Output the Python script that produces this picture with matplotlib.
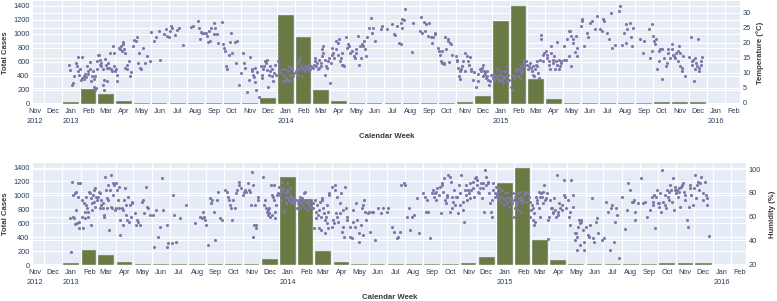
import matplotlib
matplotlib.use("Agg")
import matplotlib.pyplot as plt
import matplotlib.dates as mdates
from matplotlib.lines import Line2D
from matplotlib.ticker import FuncFormatter, NullFormatter
from matplotlib.transforms import blended_transform_factory
import pandas as pd

plt.rcParams['font.family'] = ['Liberation Sans', 'DejaVu Sans']

# monthly total cases, Jan..Dec
cases_2013 = [33, 210, 143, 43, 14, 14, 12, 12, 14, 17, 17, 90]
cases_2014 = [1262, 948, 195, 38, 19, 14, 14, 12, 14, 14, 29, 110]
cases_2015 = [1176, 1390, 352, 67, 19, 14, 14, 14, 12, 29, 29, 29]

# daily mean temperature (C), (month-day, value)
temp_2013 = [
    ("01-13", 12.5), ("01-14", 10.8), ("01-19", 6.0), ("01-20", 6.6), ("01-22", 9.0), ("01-25", 13.3),
    ("01-27", 12.2), ("01-28", 10.5), ("01-29", 15.3), ("01-30", 9.4),
    ("02-01", 11.3), ("02-02", 7.7), ("02-04", 8.2), ("02-05", 15.3), ("02-07", 8.8), ("02-08", 7.9),
    ("02-09", 9.7), ("02-11", 8.6), ("02-13", 12.2), ("02-14", 10.5), ("02-15", 9.7), ("02-17", 11.1),
    ("02-18", 13.6), ("02-19", 7.1), ("02-21", 8.8), ("02-22", 10.5), ("02-24", 7.9), ("02-25", 5.2),
    ("02-26", 4.3), ("02-27", 9.0), ("02-28", 4.9),
    ("03-01", 11.1), ("03-02", 13.9), ("03-04", 16.1), ("03-05", 15.8), ("03-06", 12.7), ("03-07", 14.4),
    ("03-08", 12.2), ("03-09", 13.3), ("03-11", 11.3), ("03-12", 6.0), ("03-13", 4.3), ("03-14", 7.7),
    ("03-15", 14.7), ("03-17", 12.7), ("03-18", 11.6), ("03-19", 7.1), ("03-21", 13.3), ("03-22", 11.6),
    ("03-24", 16.7), ("03-25", 11.1), ("03-27", 10.5), ("03-28", 18.9), ("03-30", 16.7), ("03-31", 12.2),
    ("04-01", 10.5), ("04-03", 11.1), ("04-04", 7.1), ("04-05", 9.4), ("04-08", 18.4), ("04-10", 17.8),
    ("04-11", 18.9), ("04-13", 17.2), ("04-14", 19.5), ("04-15", 20.3), ("04-16", 18.0), ("04-18", 16.7),
    ("04-19", 11.6), ("04-21", 12.7), ("04-22", 11.1), ("04-25", 13.9), ("04-27", 9.0), ("04-29", 10.2),
    ("05-02", 18.9), ("05-04", 21.0), ("05-06", 20.6), ("05-09", 21.8), ("05-10", 13.3), ("05-12", 16.7),
    ("05-14", 11.6), ("05-16", 11.1), ("05-19", 18.4), ("05-22", 13.3), ("05-25", 15.6), ("05-31", 13.9),
    ("06-01", 23.7), ("06-06", 20.6), ("06-09", 21.8), ("06-15", 24.0), ("06-16", 14.4), ("06-23", 22.9),
    ("06-26", 24.8), ("06-29", 22.3),
    ("07-02", 21.8), ("07-03", 24.0), ("07-05", 25.5), ("07-07", 25.1), ("07-12", 22.5), ("07-15", 24.3),
    ("07-19", 25.1), ("07-25", 19.2),
    ("08-09", 25.3), ("08-12", 25.5), ("08-20", 27.3), ("08-22", 25.1), ("08-23", 21.2), ("08-25", 23.7),
    ("08-27", 23.4), ("08-30", 23.2),
    ("09-02", 23.4), ("09-05", 22.3), ("09-06", 20.3), ("09-08", 24.0), ("09-09", 20.6), ("09-11", 25.1),
    ("09-16", 22.9), ("09-17", 26.8), ("09-18", 25.1), ("09-22", 22.9), ("09-23", 20.1), ("09-29", 27.0),
    ("10-02", 19.5), ("10-03", 18.4), ("10-05", 17.2), ("10-07", 12.2), ("10-08", 11.1), ("10-11", 16.1),
    ("10-14", 20.3), ("10-15", 23.4), ("10-17", 16.7), ("10-22", 20.3), ("10-23", 13.3), ("10-25", 20.6),
    ("10-28", 6.0),
    ("11-01", 9.9), ("11-05", 16.7), ("11-06", 13.3), ("11-08", 11.6), ("11-12", 3.4), ("11-15", 7.7),
    ("11-17", 15.3), ("11-19", 10.5), ("11-20", 11.1), ("11-21", 9.4), ("11-23", 8.6), ("11-24", 6.8),
    ("11-25", 11.6), ("11-27", 4.3), ("11-28", 10.2),
    ("12-02", 2.0), ("12-05", 12.2), ("12-06", 8.2), ("12-07", 9.4), ("12-09", 11.1), ("12-10", 12.2),
    ("12-12", 13.9), ("12-14", 13.3), ("12-15", 14.4), ("12-16", 10.8), ("12-17", 5.2), ("12-19", 9.4),
    ("12-20", 10.5), ("12-21", 12.2), ("12-23", 8.8), ("12-24", 11.1), ("12-26", 7.1), ("12-27", 9.9),
    ("12-29", 12.7), ("12-30", 9.4),
]
temp_2014 = [
    ("01-02", 13.9), ("01-04", 13.3), ("01-05", 10.5), ("01-08", 9.9), ("01-10", 11.1), ("01-12", 7.1),
    ("01-13", 9.4), ("01-14", 11.1), ("01-16", 8.2), ("01-17", 7.7), ("01-19", 10.5), ("01-20", 7.1),
    ("01-22", 12.2), ("01-23", 9.4), ("01-24", 7.7), ("01-25", 11.6), ("01-27", 11.1), ("01-29", 8.8),
    ("01-30", 9.9),
    ("02-02", 10.5), ("02-04", 11.6), ("02-05", 13.3), ("02-06", 9.4), ("02-07", 13.9), ("02-08", 11.1),
    ("02-10", 15.0), ("02-11", 12.2), ("02-12", 8.8), ("02-14", 11.1), ("02-15", 11.6), ("02-17", 12.2),
    ("02-18", 10.5), ("02-19", 12.2), ("02-21", 11.1), ("02-22", 11.6), ("02-24", 12.7), ("02-25", 10.5),
    ("02-27", 11.1), ("02-28", 12.2),
    ("03-03", 11.6), ("03-05", 12.7), ("03-06", 15.0), ("03-07", 13.9), ("03-09", 12.2), ("03-10", 13.3),
    ("03-11", 11.1), ("03-13", 11.6), ("03-14", 14.4), ("03-16", 12.2), ("03-17", 13.3), ("03-18", 15.6),
    ("03-19", 17.8), ("03-20", 18.9), ("03-21", 16.7), ("03-23", 9.4), ("03-24", 14.4), ("03-25", 12.2),
    ("03-27", 11.6), ("03-28", 13.9), ("03-30", 15.0),
    ("04-01", 6.6), ("04-02", 13.3), ("04-04", 16.1), ("04-05", 18.4), ("04-07", 16.7), ("04-08", 15.0),
    ("04-11", 20.6), ("04-12", 17.8), ("04-14", 20.1), ("04-15", 16.1), ("04-17", 21.2), ("04-18", 13.9),
    ("04-19", 15.0), ("04-21", 12.7), ("04-22", 16.7), ("04-24", 12.7), ("04-25", 12.2), ("04-28", 21.8),
    ("04-30", 18.4),
    ("05-02", 19.5), ("05-03", 19.0), ("05-05", 16.7), ("05-09", 17.2), ("05-11", 15.6), ("05-13", 15.0),
    ("05-15", 16.7), ("05-16", 17.8), ("05-18", 22.3), ("05-20", 12.7), ("05-22", 18.9), ("05-24", 15.0),
    ("05-26", 19.5), ("05-27", 18.9), ("05-28", 20.6), ("05-30", 17.8),
    ("06-01", 15.6), ("06-03", 21.8), ("06-06", 25.1), ("06-09", 28.2), ("06-12", 23.4), ("06-13", 25.1),
    ("06-17", 20.6), ("06-26", 24.8), ("06-28", 25.7),
    ("07-07", 24.6), ("07-16", 26.3), ("07-19", 22.9), ("07-21", 22.5), ("07-24", 25.7), ("07-27", 20.1),
    ("07-30", 26.6), ("07-31", 19.5),
    ("08-01", 27.9), ("08-02", 25.1), ("08-05", 27.7), ("08-07", 31.3), ("08-18", 16.9), ("08-20", 26.6),
    ("09-01", 24.0), ("09-03", 28.5), ("09-05", 23.4), ("09-07", 27.0), ("09-10", 24.0), ("09-11", 26.3),
    ("09-15", 22.3), ("09-16", 26.5), ("09-19", 22.1), ("09-22", 20.1), ("09-23", 21.8), ("09-26", 23.4),
    ("09-27", 22.9),
    ("10-01", 18.4), ("10-03", 17.2), ("10-05", 15.8), ("10-07", 13.9), ("10-08", 17.2), ("10-09", 13.3),
    ("10-11", 12.9), ("10-12", 13.3), ("10-14", 21.8), ("10-15", 17.8), ("10-18", 21.2), ("10-19", 20.6),
    ("10-20", 13.5), ("10-21", 20.1), ("10-23", 19.5), ("10-25", 16.1),
    ("11-01", 15.6), ("11-02", 14.4), ("11-03", 13.9), ("11-05", 11.6), ("11-06", 8.8), ("11-07", 7.9),
    ("11-08", 10.5), ("11-09", 11.1), ("11-11", 12.2), ("11-12", 13.9), ("11-16", 10.5), ("11-17", 16.7),
    ("11-20", 15.6), ("11-21", 13.9), ("11-23", 12.7), ("11-24", 15.3), ("11-26", 10.5), ("11-27", 11.1),
    ("11-30", 7.7),
    ("12-02", 10.2), ("12-05", 5.4), ("12-08", 7.1), ("12-09", 9.7), ("12-11", 11.1), ("12-13", 10.5),
    ("12-15", 11.6), ("12-16", 12.7), ("12-17", 8.8), ("12-18", 10.5), ("12-19", 9.4), ("12-21", 9.9),
    ("12-22", 8.2), ("12-23", 10.5), ("12-24", 8.8), ("12-26", 7.7), ("12-27", 6.0), ("12-28", 7.1),
    ("12-30", 9.4),
]
temp_2015 = [
    ("01-02", 8.2), ("01-03", 9.4), ("01-05", 7.7), ("01-07", 8.8), ("01-09", 11.1), ("01-10", 9.0),
    ("01-12", 7.9), ("01-13", 7.1), ("01-15", 9.4), ("01-16", 10.5), ("01-18", 7.7), ("01-19", 8.8),
    ("01-20", 6.6), ("01-21", 8.2), ("01-23", 10.5), ("01-24", 8.8), ("01-26", 7.1), ("01-27", 12.4),
    ("01-29", 9.4), ("01-30", 7.7),
    ("02-03", 5.4), ("02-04", 4.3), ("02-06", 9.4), ("02-08", 8.2), ("02-10", 11.1), ("02-11", 10.5),
    ("02-12", 8.8), ("02-13", 11.1), ("02-14", 8.8), ("02-16", 11.1), ("02-17", 8.2), ("02-19", 9.9),
    ("02-20", 12.2), ("02-21", 10.5), ("02-23", 13.3), ("02-24", 14.4), ("02-25", 12.2), ("02-27", 13.9),
    ("03-02", 12.7), ("03-03", 11.1), ("03-05", 12.2), ("03-07", 13.3), ("03-08", 11.6), ("03-10", 10.5),
    ("03-11", 12.2), ("03-12", 9.4), ("03-14", 8.8), ("03-15", 11.1), ("03-16", 12.7), ("03-18", 13.9),
    ("03-19", 12.2), ("03-20", 9.9), ("03-22", 8.2), ("03-23", 14.4), ("03-25", 21.2), ("03-26", 22.5),
    ("03-28", 16.1), ("03-29", 13.9), ("03-30", 16.7),
    ("04-02", 17.2), ("04-04", 16.1), ("04-05", 15.0), ("04-07", 13.9), ("04-08", 12.7), ("04-10", 11.1),
    ("04-11", 18.9), ("04-12", 16.7), ("04-14", 14.4), ("04-15", 13.3), ("04-17", 15.6), ("04-18", 11.1),
    ("04-19", 13.9), ("04-21", 20.3), ("04-22", 12.7), ("04-24", 11.1), ("04-25", 14.4), ("04-27", 12.2),
    ("04-28", 13.9), ("04-29", 13.3),
    ("05-03", 14.4), ("05-04", 18.9), ("05-07", 14.4), ("05-08", 21.2), ("05-11", 24.0), ("05-12", 15.6),
    ("05-14", 24.0), ("05-15", 22.3), ("05-16", 12.2), ("05-18", 20.1), ("05-19", 21.2), ("05-22", 16.9),
    ("05-23", 22.3), ("05-25", 15.6), ("05-26", 18.4),
    ("06-01", 25.7), ("06-02", 27.4), ("06-03", 27.9), ("06-06", 18.9), ("06-12", 23.4), ("06-13", 21.8),
    ("06-17", 26.8), ("06-19", 27.4), ("06-25", 24.6), ("06-28", 29.1),
    ("07-04", 24.8), ("07-07", 24.0), ("07-09", 27.9), ("07-11", 27.4), ("07-15", 23.4), ("07-19", 21.2),
    ("07-22", 30.0), ("07-24", 18.4), ("07-29", 19.2),
    ("08-05", 30.8), ("08-06", 32.2), ("08-09", 19.2), ("08-13", 23.4), ("08-16", 26.3), ("08-17", 20.1),
    ("08-19", 24.6), ("08-23", 26.8), ("08-25", 22.1), ("08-27", 18.9), ("08-28", 25.1),
    ("09-10", 21.2), ("09-14", 16.7), ("09-16", 20.6), ("09-24", 24.8), ("09-27", 15.0), ("09-29", 17.2),
    ("09-30", 26.3),
    ("10-01", 22.3), ("10-03", 20.6), ("10-05", 19.5), ("10-06", 21.2), ("10-08", 11.1), ("10-11", 13.9),
    ("10-12", 17.2), ("10-14", 17.8), ("10-16", 7.9), ("10-17", 18.0), ("10-20", 15.0), ("10-23", 12.2),
    ("10-25", 13.3), ("10-26", 16.7), ("10-27", 18.0), ("10-30", 15.0),
    ("11-02", 19.5), ("11-03", 17.8), ("11-05", 16.1), ("11-06", 15.6), ("11-08", 15.0), ("11-09", 16.7),
    ("11-12", 13.9), ("11-13", 17.2), ("11-14", 18.9), ("11-16", 16.7), ("11-17", 12.2), ("11-19", 10.5),
    ("11-20", 11.6), ("11-22", 15.6), ("11-25", 9.0),
    ("12-02", 15.3), ("12-04", 21.8), ("12-06", 13.9), ("12-07", 12.7), ("12-08", 14.4), ("12-10", 7.1),
    ("12-11", 11.1), ("12-12", 15.0), ("12-14", 13.3), ("12-15", 12.2), ("12-17", 21.2), ("12-18", 11.6),
    ("12-19", 10.5), ("12-21", 13.9), ("12-22", 12.7), ("12-24", 15.3),
]

# daily mean relative humidity (%), (month-day, value)
hum_2013 = [
    ("01-15", 58.6), ("01-16", 30.6), ("01-18", 89.4), ("01-19", 60.0), ("01-20", 78.2), ("01-21", 58.6),
    ("01-22", 79.6), ("01-23", 54.0), ("01-24", 81.0), ("01-25", 65.6), ("01-26", 54.4), ("01-27", 76.8),
    ("01-28", 88.0), ("01-29", 55.8), ("01-30", 50.2), ("01-31", 88.0),
    ("02-03", 74.0), ("02-04", 60.0), ("02-05", 50.2), ("02-07", 71.2), ("02-08", 64.2), ("02-09", 58.6),
    ("02-10", 69.8), ("02-11", 76.8), ("02-12", 67.0), ("02-13", 64.2), ("02-14", 60.0), ("02-16", 81.0),
    ("02-17", 79.6), ("02-18", 53.0), ("02-19", 75.4), ("02-20", 71.2), ("02-21", 65.6), ("02-22", 78.2),
    ("02-23", 82.4), ("02-24", 72.6), ("02-25", 68.4), ("02-26", 83.8), ("02-27", 76.8), ("02-28", 74.0),
    ("03-02", 76.8), ("03-04", 81.0), ("03-05", 79.6), ("03-06", 67.0), ("03-07", 74.0), ("03-08", 69.8),
    ("03-10", 67.0), ("03-11", 71.2), ("03-12", 61.4), ("03-13", 60.0), ("03-14", 93.6), ("03-16", 82.4),
    ("03-17", 75.4), ("03-18", 67.0), ("03-19", 86.6), ("03-20", 74.0), ("03-21", 48.8), ("03-22", 82.4),
    ("03-24", 68.4), ("03-25", 95.0), ("03-26", 67.0), ("03-27", 88.0), ("03-28", 78.2), ("03-30", 86.6),
    ("03-31", 65.6),
    ("04-01", 67.0), ("04-02", 88.0), ("04-03", 82.4), ("04-05", 74.0), ("04-06", 85.2), ("04-07", 67.0),
    ("04-08", 44.6), ("04-09", 57.2), ("04-11", 67.0), ("04-13", 53.0), ("04-14", 65.6), ("04-15", 74.0),
    ("04-17", 83.8), ("04-18", 61.4), ("04-19", 69.8), ("04-21", 57.2), ("04-22", 76.8), ("04-24", 55.8),
    ("04-25", 69.8), ("04-27", 60.0), ("04-28", 72.6), ("04-29", 71.2),
    ("05-04", 62.8), ("05-05", 53.0), ("05-07", 57.2), ("05-09", 55.8), ("05-12", 53.0), ("05-15", 72.6),
    ("05-17", 74.0), ("05-19", 62.8), ("05-22", 85.2), ("05-24", 68.4), ("05-26", 67.0), ("05-29", 61.4),
    ("06-03", 61.4), ("06-05", 34.8), ("06-08", 65.6), ("06-11", 43.2), ("06-14", 51.6), ("06-18", 92.2),
    ("06-20", 65.6), ("06-26", 53.0), ("06-27", 34.8), ("06-29", 37.6),
    ("07-05", 37.6), ("07-07", 78.2), ("07-08", 61.4), ("07-11", 39.0), ("07-19", 58.6), ("07-28", 69.8),
    ("08-13", 54.4), ("08-21", 60.0), ("08-24", 58.6), ("08-26", 64.2), ("08-28", 60.0), ("08-30", 57.2),
    ("09-01", 53.0), ("09-04", 36.2), ("09-07", 75.4), ("09-08", 71.2), ("09-10", 74.0), ("09-13", 64.2),
    ("09-15", 40.4), ("09-18", 74.0), ("09-21", 81.0), ("09-24", 58.6), ("09-27", 57.2),
    ("10-02", 82.4), ("10-05", 81.0), ("10-07", 76.8), ("10-09", 74.0), ("10-11", 69.8), ("10-12", 67.0),
    ("10-14", 57.2), ("10-16", 74.0), ("10-19", 67.0), ("10-21", 79.6), ("10-23", 82.4), ("10-25", 89.4),
    ("10-26", 86.6), ("10-29", 83.8),
    ("11-01", 78.2), ("11-03", 81.0), ("11-05", 82.4), ("11-07", 81.0), ("11-10", 88.0), ("11-12", 82.4),
    ("11-14", 81.0), ("11-15", 69.8), ("11-16", 97.8), ("11-18", 86.6), ("11-19", 42.7), ("11-20", 53.0),
    ("11-22", 69.8), ("11-23", 53.0), ("11-24", 50.2), ("11-26", 74.0), ("11-27", 76.8),
    ("12-05", 93.6), ("12-07", 69.8), ("12-09", 74.0), ("12-10", 67.0), ("12-11", 64.2), ("12-13", 65.6),
    ("12-14", 61.4), ("12-15", 62.8), ("12-16", 67.0), ("12-17", 60.0), ("12-18", 86.6), ("12-20", 78.2),
    ("12-21", 61.4), ("12-22", 76.8), ("12-23", 74.0), ("12-24", 86.6), ("12-25", 58.6), ("12-26", 64.2),
    ("12-27", 69.8), ("12-28", 78.2), ("12-31", 79.6),
]
hum_2014 = [
    ("01-01", 85.2), ("01-02", 78.2), ("01-04", 82.4), ("01-05", 74.0), ("01-06", 89.4), ("01-07", 81.0),
    ("01-08", 83.8), ("01-09", 64.2), ("01-10", 65.6), ("01-11", 76.8), ("01-12", 71.2), ("01-13", 79.6),
    ("01-14", 82.4), ("01-15", 88.0), ("01-16", 75.4), ("01-17", 81.0), ("01-18", 74.0), ("01-19", 78.2),
    ("01-20", 83.8), ("01-21", 76.8), ("01-22", 72.6), ("01-24", 75.4), ("01-25", 74.0), ("01-27", 71.2),
    ("01-28", 74.0), ("01-30", 74.0), ("01-31", 67.0),
    ("02-02", 71.2), ("02-04", 74.0), ("02-05", 67.0), ("02-06", 76.8), ("02-07", 71.2), ("02-08", 75.4),
    ("02-10", 69.8), ("02-11", 74.0), ("02-12", 79.6), ("02-13", 81.0), ("02-14", 67.0), ("02-16", 72.6),
    ("02-17", 71.2), ("02-18", 65.6), ("02-19", 74.0), ("02-21", 69.8), ("02-22", 68.4), ("02-23", 72.6),
    ("02-25", 71.2), ("02-27", 71.2), ("02-28", 67.0),
    ("03-01", 50.2), ("03-02", 74.0), ("03-04", 64.2), ("03-05", 58.6), ("03-06", 69.8), ("03-08", 61.4),
    ("03-09", 65.6), ("03-10", 50.2), ("03-11", 72.6), ("03-12", 60.0), ("03-13", 48.8), ("03-14", 74.0),
    ("03-15", 75.4), ("03-16", 67.0), ("03-18", 62.8), ("03-19", 57.2), ("03-20", 46.0), ("03-21", 60.0),
    ("03-22", 69.8), ("03-23", 54.4), ("03-24", 50.2), ("03-25", 64.2), ("03-26", 78.2), ("03-27", 79.6),
    ("03-31", 85.2),
    ("04-01", 51.6), ("04-02", 57.2), ("04-04", 54.4), ("04-05", 86.6), ("04-06", 82.4), ("04-07", 62.8),
    ("04-08", 60.0), ("04-09", 76.8), ("04-11", 55.8), ("04-13", 71.2), ("04-14", 62.8), ("04-15", 79.6),
    ("04-17", 47.4), ("04-18", 65.6), ("04-19", 51.6), ("04-21", 43.2), ("04-22", 85.2), ("04-24", 67.0),
    ("04-25", 60.0), ("04-26", 57.2), ("04-30", 43.2),
    ("05-01", 51.6), ("05-04", 41.8), ("05-05", 65.6), ("05-06", 55.8), ("05-09", 51.6), ("05-11", 71.2),
    ("05-13", 57.2), ("05-15", 46.0), ("05-16", 39.0), ("05-19", 53.0), ("05-20", 67.0), ("05-22", 44.6),
    ("05-23", 69.8), ("05-24", 74.0), ("05-26", 64.2), ("05-28", 57.2), ("05-30", 62.8),
    ("06-02", 64.2), ("06-04", 47.4), ("06-06", 64.2), ("06-09", 64.2), ("06-12", 40.4), ("06-16", 67.0),
    ("06-21", 62.8), ("06-25", 67.0),
    ("07-01", 64.2), ("07-04", 67.0), ("07-11", 51.6), ("07-13", 47.4), ("07-18", 41.8), ("07-20", 43.2),
    ("07-23", 47.4), ("07-26", 86.6), ("07-30", 88.0),
    ("08-01", 86.6), ("08-04", 60.0), ("08-07", 67.0), ("08-10", 48.8), ("08-13", 60.0), ("08-16", 61.4),
    ("08-21", 75.4), ("08-24", 46.0), ("08-31", 79.6),
    ("09-03", 76.8), ("09-06", 64.2), ("09-07", 74.0), ("09-09", 64.2), ("09-12", 41.8), ("09-15", 79.6),
    ("09-17", 82.4), ("09-19", 76.8), ("09-20", 79.6), ("09-22", 74.0), ("09-23", 81.0), ("09-24", 83.8),
    ("09-28", 78.2), ("09-29", 85.2), ("09-30", 62.8),
    ("10-02", 88.0), ("10-03", 86.6), ("10-04", 81.0), ("10-06", 92.2), ("10-07", 74.0), ("10-09", 71.2),
    ("10-10", 76.8), ("10-11", 78.2), ("10-13", 95.0), ("10-15", 64.2), ("10-16", 93.6), ("10-17", 89.4),
    ("10-19", 76.8), ("10-20", 67.0), ("10-21", 72.6), ("10-23", 82.4), ("10-24", 69.8), ("10-26", 76.8),
    ("10-28", 76.8), ("10-29", 62.8), ("10-31", 86.6),
    ("11-01", 79.6), ("11-02", 69.8), ("11-04", 95.0), ("11-06", 65.6), ("11-07", 72.6), ("11-08", 55.8),
    ("11-10", 82.4), ("11-11", 78.2), ("11-12", 86.6), ("11-14", 74.0), ("11-15", 82.4), ("11-17", 79.6),
    ("11-18", 88.0), ("11-19", 75.4), ("11-21", 82.4), ("11-23", 89.4), ("11-24", 83.8), ("11-25", 76.8),
    ("11-27", 92.2), ("11-28", 93.6), ("11-30", 86.6),
    ("12-01", 90.8), ("12-02", 81.0), ("12-04", 79.6), ("12-05", 83.8), ("12-07", 88.0), ("12-08", 75.4),
    ("12-10", 83.8), ("12-11", 88.0), ("12-12", 64.2), ("12-14", 99.2), ("12-15", 86.6), ("12-16", 93.6),
    ("12-18", 89.4), ("12-19", 88.0), ("12-21", 79.6), ("12-22", 71.2), ("12-23", 64.2), ("12-25", 60.0),
    ("12-26", 74.0), ("12-27", 88.0), ("12-28", 82.4), ("12-30", 79.6), ("12-31", 76.8),
]
hum_2015 = [
    ("01-01", 85.2), ("01-03", 78.2), ("01-04", 74.0), ("01-06", 81.0), ("01-07", 83.8), ("01-08", 76.8),
    ("01-10", 72.6), ("01-12", 82.4), ("01-13", 75.4), ("01-14", 69.8), ("01-16", 79.6), ("01-18", 74.0),
    ("01-19", 71.2), ("01-20", 81.0), ("01-22", 76.8), ("01-23", 68.4), ("01-24", 74.0), ("01-27", 75.4),
    ("01-29", 71.2), ("01-30", 79.6), ("01-31", 74.0),
    ("02-01", 60.0), ("02-02", 67.0), ("02-03", 76.8), ("02-05", 72.6), ("02-06", 69.8), ("02-07", 79.6),
    ("02-08", 65.6), ("02-09", 75.4), ("02-10", 74.0), ("02-11", 81.0), ("02-12", 64.2), ("02-13", 76.8),
    ("02-14", 71.2), ("02-16", 74.0), ("02-17", 78.2), ("02-19", 81.0), ("02-20", 72.6), ("02-22", 79.6),
    ("02-24", 81.0), ("02-26", 76.8), ("02-27", 72.6), ("02-28", 60.0),
    ("03-01", 65.6), ("03-02", 69.8), ("03-04", 67.0), ("03-05", 57.2), ("03-06", 62.8), ("03-07", 53.0),
    ("03-08", 55.8), ("03-10", 76.8), ("03-11", 74.0), ("03-12", 71.2), ("03-14", 67.0), ("03-15", 81.0),
    ("03-16", 76.8), ("03-17", 60.0), ("03-18", 79.6), ("03-19", 76.8), ("03-21", 71.2), ("03-22", 81.0),
    ("03-23", 86.6), ("03-25", 74.0), ("03-27", 75.4), ("03-28", 79.6), ("03-29", 41.0), ("03-30", 57.2),
    ("04-01", 60.0), ("04-02", 74.0), ("04-03", 67.0), ("04-05", 67.0), ("04-07", 64.2), ("04-08", 62.8),
    ("04-09", 75.4), ("04-11", 65.6), ("04-12", 60.0), ("04-14", 95.0), ("04-15", 61.4), ("04-16", 64.2),
    ("04-18", 71.2), ("04-19", 67.0), ("04-22", 69.8), ("04-23", 65.6), ("04-25", 90.8), ("04-26", 78.2),
    ("04-28", 76.8), ("04-29", 67.0),
    ("05-02", 74.0), ("05-04", 60.0), ("05-05", 64.2), ("05-06", 53.0), ("05-08", 90.8), ("05-10", 78.2),
    ("05-11", 68.4), ("05-14", 46.0), ("05-15", 40.4), ("05-16", 46.0), ("05-17", 43.2), ("05-18", 32.0),
    ("05-19", 51.6), ("05-21", 57.2), ("05-22", 54.4), ("05-23", 36.2), ("05-24", 55.8), ("05-25", 57.2),
    ("05-27", 48.8), ("05-29", 39.0), ("05-30", 32.0),
    ("06-02", 51.6), ("06-05", 44.6), ("06-07", 43.2), ("06-08", 53.0), ("06-11", 75.4), ("06-14", 41.8),
    ("06-16", 39.0), ("06-18", 55.8), ("06-20", 58.6), ("06-22", 46.0), ("06-28", 40.4),
    ("07-02", 41.8), ("07-06", 72.6), ("07-09", 64.2), ("07-12", 32.0), ("07-13", 67.0), ("07-15", 69.8),
    ("07-18", 39.0), ("07-20", 55.8), ("07-22", 67.0), ("07-24", 61.4), ("07-28", 25.0),
    ("08-01", 76.8), ("08-06", 49.7), ("08-09", 65.6), ("08-12", 88.0), ("08-15", 82.4), ("08-18", 72.6),
    ("08-19", 72.6), ("08-22", 74.0), ("08-23", 64.2), ("08-24", 57.2), ("08-29", 71.2),
    ("09-02", 92.2), ("09-06", 71.2), ("09-09", 72.6), ("09-13", 60.0), ("09-17", 65.6), ("09-20", 76.8),
    ("09-22", 72.6), ("09-23", 69.8), ("09-25", 78.2), ("09-26", 50.2), ("09-28", 76.8), ("09-29", 82.4),
    ("10-01", 71.2), ("10-02", 71.2), ("10-03", 68.4), ("10-05", 79.6), ("10-06", 64.2), ("10-08", 99.2),
    ("10-10", 72.6), ("10-12", 78.2), ("10-13", 69.8), ("10-14", 67.0), ("10-16", 82.4), ("10-17", 76.8),
    ("10-19", 74.0), ("10-20", 81.0), ("10-21", 86.6), ("10-23", 82.4), ("10-25", 72.6), ("10-26", 92.2),
    ("10-27", 65.6), ("10-29", 82.4), ("10-30", 85.2), ("10-31", 79.6),
    ("11-02", 82.4), ("11-03", 76.8), ("11-05", 81.0), ("11-06", 83.8), ("11-07", 68.4), ("11-09", 85.2),
    ("11-11", 86.6), ("11-12", 88.0), ("11-13", 81.0), ("11-15", 74.0), ("11-16", 78.2), ("11-19", 57.2),
    ("11-20", 51.6), ("11-22", 68.4), ("11-23", 83.8), ("11-24", 86.6), ("11-26", 78.2), ("11-28", 69.8),
    ("11-30", 83.8),
    ("12-02", 95.0), ("12-04", 75.4), ("12-06", 86.6), ("12-08", 89.4), ("12-09", 82.4), ("12-10", 88.0),
    ("12-13", 93.6), ("12-15", 79.6), ("12-16", 74.0), ("12-19", 89.4), ("12-21", 78.2), ("12-22", 69.8),
    ("12-23", 75.4), ("12-26", 43.8),
]

BG = '#E5ECF6'
BAR = '#697a45'
PT = '#8176a8'
TXT = '#2a3f5f'
TITLE = '#3a3a3a'


def series(*years):
    xs, ys = [], []
    for year, pairs in years:
        for md, v in pairs:
            xs.append(pd.Timestamp(f"{year}-{md}"))
            ys.append(v)
    return mdates.date2num(xs), ys


tx, ty = series((2013, temp_2013), (2014, temp_2014), (2015, temp_2015))
hx, hy = series((2013, hum_2013), (2014, hum_2014), (2015, hum_2015))

cases = cases_2013 + cases_2014 + cases_2015
month_start = pd.date_range("2013-01-01", periods=len(cases), freq="MS")
ndays = month_start.days_in_month.values
bar_x = mdates.date2num(month_start) + ndays / 2.0
bar_w = ndays * 0.88

x0 = mdates.date2num(pd.Timestamp("2012-11-13"))
x1 = mdates.date2num(pd.Timestamp("2016-02-26"))


def month_fmt(x, pos=None):
    d = mdates.num2date(x)
    if d.month == 1 or (d.year == 2012 and d.month == 11):
        return d.strftime("%b") + "\n" + d.strftime("%Y")
    return d.strftime("%b")


fig = plt.figure(figsize=(7.77, 3.01), dpi=100)


def panel(rect, px, py, label2, lim2, ticks2, lab2_x):
    ax = fig.add_axes(rect)
    ax.set_facecolor(BG)
    ax.bar(bar_x, cases, width=bar_w, color=BAR, edgecolor=BG, linewidth=0.3, zorder=2)
    ax.set_xlim(x0, x1)
    ax.set_ylim(0, 1465)
    ax.set_yticks(range(0, 1401, 200))
    ax.xaxis.set_major_locator(mdates.MonthLocator())
    ax.xaxis.set_major_formatter(NullFormatter())
    ax.xaxis.set_minor_locator(mdates.MonthLocator(bymonthday=16))
    ax.xaxis.set_minor_formatter(FuncFormatter(month_fmt))
    ax.tick_params(axis='x', which='both', length=0, pad=3.2, labelsize=5.3, labelcolor=TXT)
    ax.tick_params(axis='y', length=0, pad=2.5, labelsize=5.3, labelcolor=TXT)
    for lab in ax.xaxis.get_minorticklabels():
        lab.set_linespacing(1.5)
    ax.set_axisbelow(True)
    ax.grid(axis='x', which='major', color='white', lw=0.8)
    ax.grid(axis='y', color='white', lw=0.8)
    for s in ax.spines.values():
        s.set_visible(False)
    ax.set_xlabel("Calendar Week", fontsize=5.6, fontweight='bold', color=TITLE)
    ax.xaxis.set_label_coords(0.5, -0.285)
    ax.set_ylabel("Total Cases", fontsize=5.6, fontweight='bold', color=TITLE)
    ax.yaxis.set_label_coords(-0.034, 0.5)

    ax2 = ax.twinx()
    ax2.scatter(px, py, s=5, color=PT, linewidths=0, zorder=3)
    ax2.set_ylim(*lim2)
    ax2.set_yticks(ticks2)
    ax2.tick_params(axis='y', length=0, pad=2, labelsize=5.3, labelcolor=TXT)
    for s in ax2.spines.values():
        s.set_visible(False)
    ax2.set_ylabel(label2, fontsize=5.6, fontweight='bold', color=TITLE)
    ax2.yaxis.set_label_coords(lab2_x, 0.5)
    # right-axis grid drawn under the bars
    tr = blended_transform_factory(ax.transAxes, ax2.transData)
    for t in ticks2:
        ax.add_artist(Line2D([0, 1], [t, t], transform=tr, color='white', lw=0.8, zorder=0.6))
    return ax, ax2


panel([33 / 777, 1 - 104 / 301, 707 / 777, 103 / 301], tx, ty,
      "Temperature (°C)", (-0.45, 34.0), range(0, 31, 5), 1.0226)
panel([33 / 777, 1 - 265 / 301, 713 / 777, 102 / 301], hx, hy,
      "Humidity (%)", (19.4, 105.1), range(20, 101, 20), 1.032)

fig.savefig("out.png", dpi=100)
